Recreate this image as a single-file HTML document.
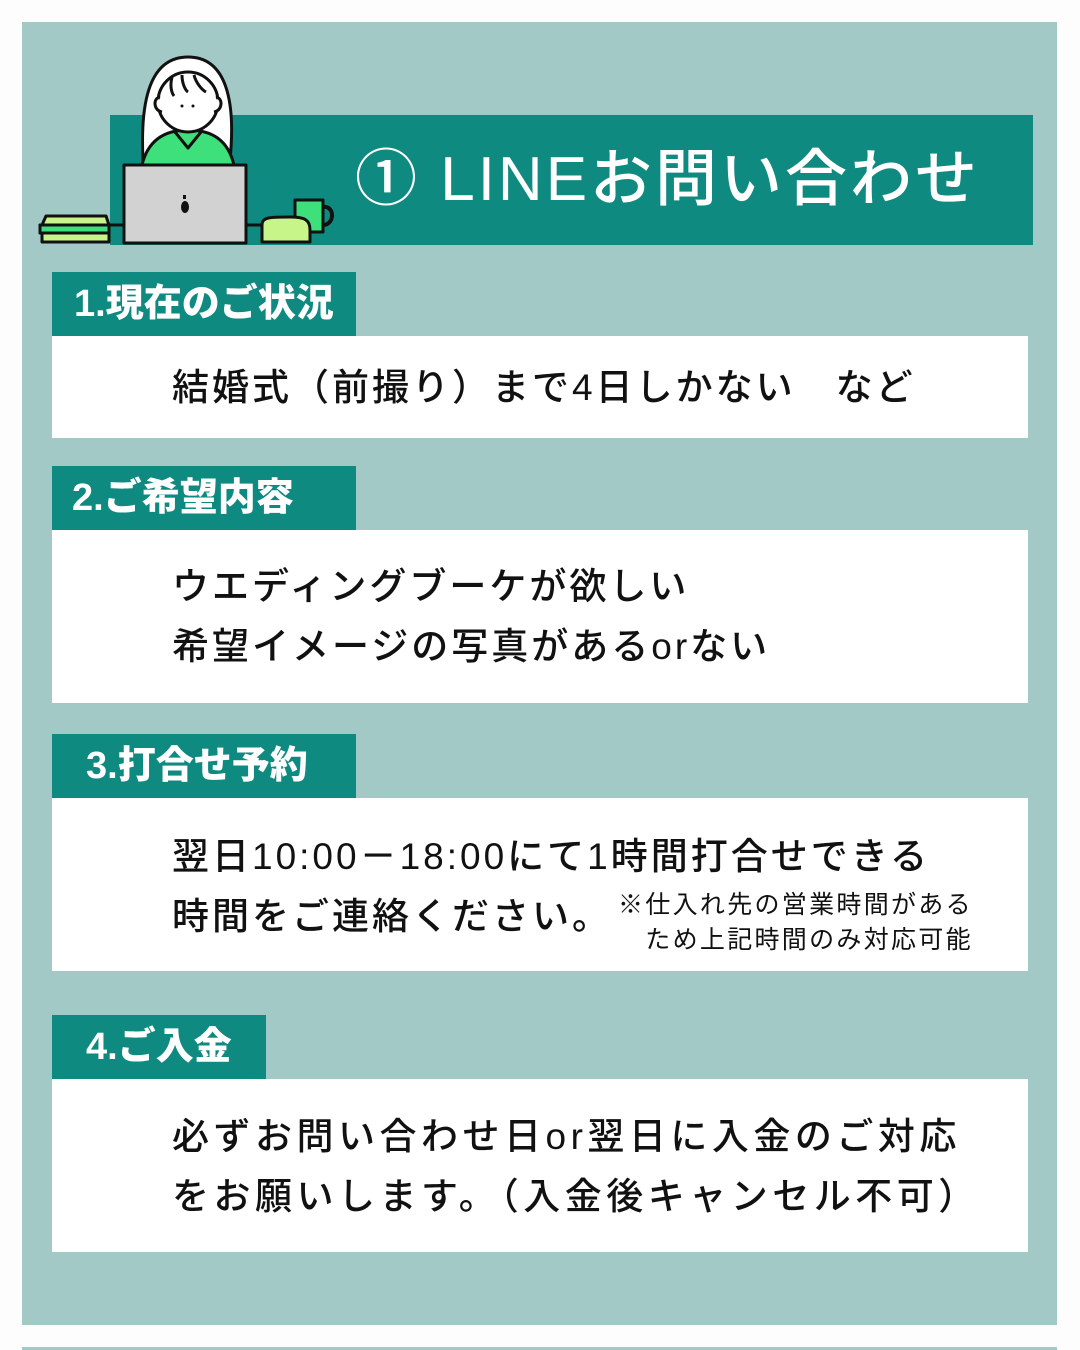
<!DOCTYPE html>
<html><head><meta charset="utf-8"><style>
*{margin:0;padding:0;box-sizing:border-box}
body{width:1080px;height:1350px;background:#fdfdfd;position:relative;overflow:hidden;font-family:"Liberation Sans","Noto Sans CJK JP",sans-serif}
.abs{position:absolute}
.panel{left:22px;top:22px;width:1035px;height:1303px;background:#a3c9c6}
.bar{left:110px;top:115px;width:923px;height:130px;background:#0f8a80}
.title{left:355px;top:140px;color:#fff;font-size:62px;font-weight:500;white-space:nowrap;letter-spacing:3px;line-height:80px}
.tab{background:#0f8a80;color:#fff;font-weight:900;font-size:38px;line-height:64px;height:64px;left:52px;white-space:nowrap;letter-spacing:0px}
.box{background:#fff;left:52px;width:976px}
.txt{left:172px;font-size:37px;color:#111;white-space:nowrap;line-height:60px;font-weight:500;letter-spacing:3px}
.note{left:618px;font-size:25px;color:#111;line-height:35px;white-space:nowrap;letter-spacing:2.3px}
</style></head><body>
<div class="abs panel"></div>
<div class="abs" style="left:22px;top:1347px;width:1035px;height:3px;background:#a3c9c6"></div>
<div class="abs bar"></div>
<svg class="abs" style="left:30px;top:40px" width="330" height="220" viewBox="0 0 330 220">
<g stroke="#111" stroke-width="3" stroke-linejoin="round">
<path d="M113 120 C110 60 120 17 158 17 C196 17 206 60 200 120 Z" fill="#fff"/>
<path d="M112 125 C118 100 135 90 158 90 C182 90 198 100 204 125 Z" fill="#3de07a"/>
<path d="M145 92 L158 108 L171 92 L158 86 Z" fill="#3de07a"/>
<ellipse cx="158" cy="62" rx="30" ry="30" fill="#fff"/>
<path d="M130 58 C124 56 122 70 132 72" fill="#fff"/><path d="M186 58 C192 56 194 70 184 72" fill="#fff"/>
<path d="M142 37 C140 45 141 52 144 56 M152 35 C152 43 155 50 158 52 M164 35 C166 43 172 50 176 52" fill="none"/>
<rect x="94" y="125" width="122" height="78" fill="#d2d2d2"/>
<path d="M12 185 L16 176 L76 176 L79 185 Z M10 185 H79 V193 H10 Z M12 193 H79 V202 H12 Z" fill="#c8f58a"/>
<rect x="10" y="185" width="69" height="8" fill="#3de07a"/>
<path d="M265 160 L293 160 L293 192 L265 192 Z" fill="#3de07a"/>
<path d="M293 167 C305 165 305 185 293 185" fill="none" stroke-width="4"/>
<path d="M232 185 C232 177 240 177 260 177 C275 177 280 180 280 190 L280 202 L232 202 Z" fill="#c8f58a"/>
<line x1="79" y1="185" x2="94" y2="185"/><line x1="216" y1="185" x2="232" y2="185"/>
</g>
<ellipse cx="155" cy="167" rx="4" ry="6" fill="#111"/><rect x="153" y="155" width="3" height="4" fill="#111"/>
<circle cx="152" cy="66" r="1.5" fill="#111"/><circle cx="163" cy="66" r="1.5" fill="#111"/>
</svg>
<div class="abs title">① LINEお問い合わせ</div>

<div class="abs tab" style="top:272px;width:304px;padding-left:22px">1.現在のご状況</div>
<div class="abs box" style="top:336px;height:102px"></div>
<div class="abs txt" style="top:358px">結婚式（前撮り）まで4日しかない　など</div>

<div class="abs tab" style="top:466px;width:304px;padding-left:20px">2.ご希望内容</div>
<div class="abs box" style="top:530px;height:173px"></div>
<div class="abs txt" style="top:557px">ウエディングブーケが欲しい<br>希望イメージの写真があるorない</div>

<div class="abs tab" style="top:734px;width:304px;padding-left:34px">3.打合せ予約</div>
<div class="abs box" style="top:798px;height:173px"></div>
<div class="abs txt" style="top:827px">翌日10:00－18:00にて1時間打合せできる<br>時間をご連絡ください。</div>
<div class="abs note" style="top:888px">※仕入れ先の営業時間がある<br>　ため上記時間のみ対応可能</div>

<div class="abs tab" style="top:1015px;width:214px;padding-left:34px">4.ご入金</div>
<div class="abs box" style="top:1079px;height:173px"></div>
<div class="abs txt" style="top:1107px;letter-spacing:4.5px">必ずお問い合わせ日or翌日に入金のご対応<br>をお願いします。（入金後キャンセル不可）</div>
</body></html>
